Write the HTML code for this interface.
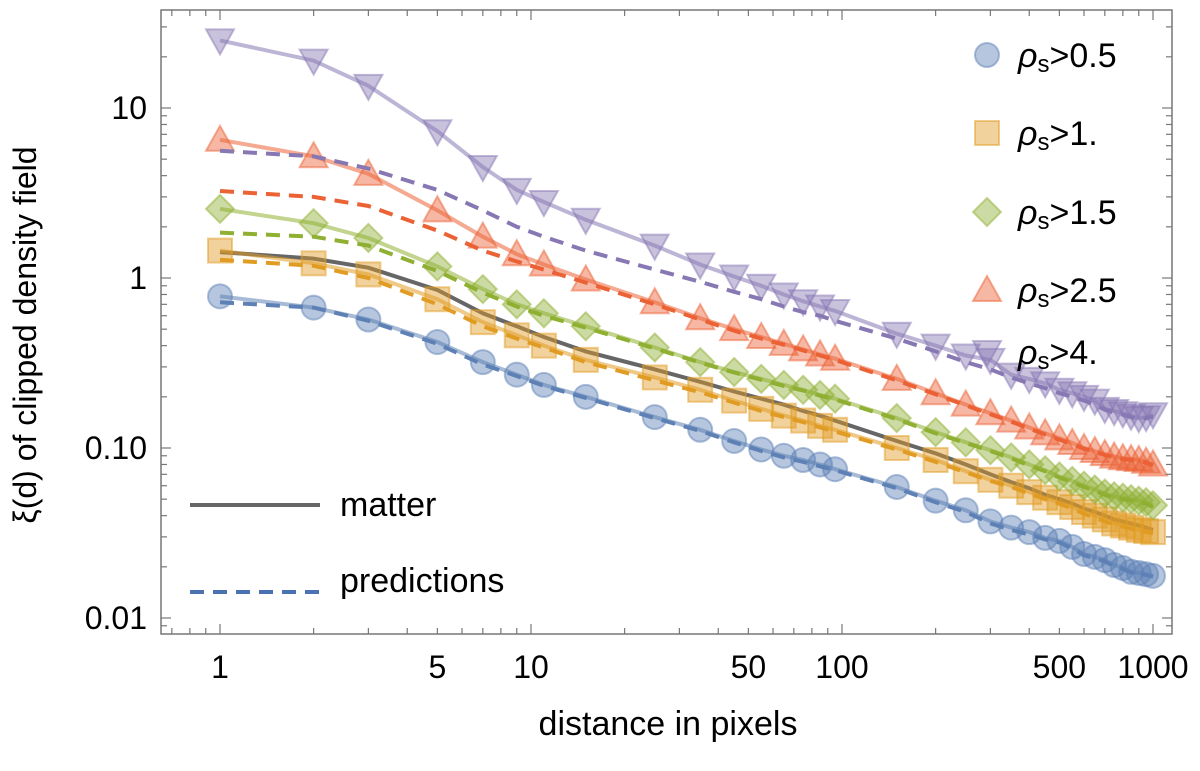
<!DOCTYPE html>
<html><head><meta charset="utf-8"><style>
body{margin:0;background:#fff}
svg text{font-family:"Liberation Sans",sans-serif;fill:#000}
</style></head><body>
<svg id="chart" width="1200" height="766" viewBox="0 0 1200 766" xmlns="http://www.w3.org/2000/svg">
<g id="plot"></g>
<rect x="161" y="10" width="1011" height="624" fill="none" stroke="#777" stroke-width="1.5"/>
<g id="axes"></g>
<text x="668" y="735" font-size="34" text-anchor="middle">distance in pixels</text>
<text transform="translate(36,335) rotate(-90)" font-size="32" text-anchor="middle">ξ(d) of clipped density field</text>
<g id="legend"></g>
</svg>
<script>
const distances=[1,2,3,5,7,9,11,15,25,35,45,55,65,75,85,95,150,200,250,300,350,400,450,500,550,600,650,700,750,800,850,900,950,1000];
const rho05=[0.78,0.67,0.57,0.42,0.32,0.27,0.235,0.2,0.152,0.128,0.11,0.098,0.09,0.085,0.08,0.075,0.059,0.049,0.043,0.037,0.034,0.032,0.0296,0.0284,0.0262,0.0238,0.0229,0.0219,0.0205,0.0197,0.0187,0.0184,0.0181,0.0177];
const rho1=[1.45,1.22,1.05,0.75,0.55,0.46,0.4,0.33,0.26,0.22,0.19,0.17,0.155,0.145,0.135,0.128,0.1,0.085,0.073,0.065,0.06,0.055,0.051,0.048,0.045,0.042,0.04,0.038,0.036,0.035,0.034,0.033,0.0325,0.032];
const rho15=[2.55,2.1,1.72,1.17,0.86,0.7,0.62,0.52,0.39,0.32,0.28,0.255,0.235,0.22,0.205,0.195,0.15,0.124,0.108,0.097,0.088,0.08,0.074,0.068,0.064,0.06,0.057,0.054,0.052,0.051,0.05,0.049,0.048,0.046];
const rho25=[6.5,5.2,4.1,2.5,1.75,1.38,1.2,0.98,0.72,0.58,0.5,0.45,0.41,0.38,0.355,0.335,0.255,0.21,0.18,0.16,0.145,0.132,0.122,0.114,0.107,0.1,0.096,0.092,0.089,0.087,0.086,0.085,0.083,0.08];
const rho4=[25,19,13.5,7.3,4.5,3.3,2.8,2.2,1.55,1.2,1.02,0.9,0.8,0.73,0.68,0.64,0.47,0.4,0.35,0.33,0.27,0.255,0.24,0.22,0.21,0.2,0.19,0.17,0.165,0.16,0.155,0.15,0.152,0.158];
const matter=[1.42,1.3,1.15,0.85,0.62,0.52,0.45,0.37,0.29,0.245,0.215,0.195,0.18,0.165,0.155,0.145,0.11,0.093,0.08,0.07,0.063,0.058,0.053,0.05,0.047,0.044,0.042,0.04,0.038,0.037,0.036,0.035,0.034,0.033];
const pred05=[0.72,0.67,0.56,0.41,0.31,0.265,0.232,0.197,0.15,0.126,0.108,0.096,0.088,0.083,0.078,0.074,0.058,0.048,0.042,0.036,0.033,0.031,0.029,0.0278,0.0256,0.0234,0.0225,0.0215,0.0202,0.0194,0.0185,0.0182,0.0179,0.0175];
const pred1=[1.28,1.18,1.0,0.7,0.52,0.44,0.39,0.32,0.25,0.213,0.185,0.165,0.152,0.142,0.132,0.125,0.098,0.083,0.072,0.064,0.059,0.054,0.05,0.047,0.044,0.041,0.039,0.037,0.0355,0.0345,0.0335,0.0325,0.032,0.0315];
const pred15=[1.85,1.75,1.55,1.1,0.82,0.68,0.6,0.51,0.385,0.318,0.278,0.252,0.232,0.218,0.203,0.193,0.148,0.122,0.107,0.096,0.087,0.079,0.073,0.067,0.063,0.059,0.056,0.053,0.051,0.05,0.049,0.048,0.047,0.045];
const pred25=[3.25,3.0,2.65,1.9,1.45,1.25,1.12,0.94,0.7,0.57,0.49,0.44,0.405,0.375,0.35,0.33,0.25,0.207,0.178,0.158,0.143,0.13,0.12,0.112,0.105,0.099,0.095,0.091,0.088,0.086,0.085,0.084,0.082,0.079];
const pred4=[5.6,5.2,4.4,3.3,2.5,2.0,1.75,1.45,1.12,0.95,0.83,0.75,0.68,0.63,0.6,0.56,0.44,0.37,0.32,0.29,0.26,0.24,0.225,0.21,0.2,0.19,0.18,0.168,0.162,0.157,0.152,0.148,0.15,0.153];
const xTicks=[1,5,10,50,100,500,1000];
const yTicks=[10,1,0.1,0.01];
const yTickLabels=["10","1","0.10","0.01"];
const legendLabels=["0.5","1.","1.5","2.5","4."];

const NS="http://www.w3.org/2000/svg";
const X=d=>220+311*Math.log10(d);
const Y=v=>108+170*(1-Math.log10(v));
function mk(tag,attrs,parent){const e=document.createElementNS(NS,tag);for(const k in attrs)e.setAttribute(k,attrs[k]);parent.appendChild(e);return e;}
const plot=document.getElementById('plot'),axes=document.getElementById('axes'),legend=document.getElementById('legend');
const series=[
 {name:'rho-0.5',v:rho05,p:pred05,c:'#5E81B5',m:'circle'},
 {name:'rho-1',v:rho1,p:pred1,c:'#E19C24',m:'square'},
 {name:'rho-1.5',v:rho15,p:pred15,c:'#8FB032',m:'diamond'},
 {name:'rho-2.5',v:rho25,p:pred25,c:'#EB6235',m:'tri'},
 {name:'rho-4',v:rho4,p:pred4,c:'#8778B3',m:'itri'}];
function marker(m,x,y,c,parent){
 const st={fill:c,'fill-opacity':0.45,stroke:c,'stroke-opacity':0.5,'stroke-width':2};
 let e;
 if(m==='circle')e=mk('circle',Object.assign({cx:x,cy:y,r:12},st),parent);
 else if(m==='square')e=mk('rect',Object.assign({x:x-12,y:y-12,width:24,height:24},st),parent);
 else if(m==='diamond')e=mk('polygon',Object.assign({points:`${x},${y-14} ${x+14},${y} ${x},${y+14} ${x-14},${y}`},st),parent);
 else if(m==='tri')e=mk('polygon',Object.assign({points:`${x},${y-14} ${x+14},${y+11} ${x-14},${y+11}`},st),parent);
 else e=mk('polygon',Object.assign({points:`${x},${y+14} ${x+14},${y-11} ${x-14},${y-11}`},st),parent);
 return e;
}
const path=arr=>arr.map((v,i)=>(i?'L':'M')+X(distances[i]).toFixed(1)+','+Y(v).toFixed(1)).join(' ');
const mpath=mk('path',{d:path(matter),fill:'none',stroke:'#666','stroke-width':4},plot);


series.forEach(s=>{
 const g=mk('g',{},plot);
 
 
 const l=mk('path',{d:path(s.v),fill:'none',stroke:s.c,'stroke-opacity':0.55,'stroke-width':4},g);
 
 
 const p=mk('path',{d:path(s.p),fill:'none',stroke:s.c,'stroke-width':4,'stroke-dasharray':'14 9'},g);
 
 
 s.v.forEach((v,i)=>{const e=marker(s.m,X(distances[i]),Y(v),s.c,g);
  
  });
});
const minor=[];for(let dec=0.1;dec<=1000;dec*=10)for(let k=1;k<10;k++){const v=Math.round(dec*k*1000)/1000;if(v>=0.65&&v<=1500)minor.push(v);}
minor.forEach(v=>{const x=X(v);const major=[1,10,100,1000].includes(v);const len=major?10:6;
 mk('line',{x1:x,x2:x,y1:634,y2:634-len,stroke:'#777','stroke-width':1.2},axes);
 mk('line',{x1:x,x2:x,y1:10,y2:10+len,stroke:'#777','stroke-width':1.2},axes);});
xTicks.forEach(v=>{const t=mk('text',{x:X(v),y:678,'font-size':32,'text-anchor':'middle'},axes);t.textContent=String(v);
 
 });
for(let dec=0.001;dec<=10;dec*=10)for(let k=1;k<10;k++){const v=dec*k;const y=Y(v);if(y<10||y>634)continue;const len=k===1?10:6;
 mk('line',{x1:161,x2:161+len,y1:y,y2:y,stroke:'#777','stroke-width':1.2},axes);
 mk('line',{x1:1172,x2:1172-len,y1:y,y2:y,stroke:'#777','stroke-width':1.2},axes);}
yTicks.forEach((v,i)=>{const t=mk('text',{x:147,y:Y(v)+11,'font-size':32,'text-anchor':'end'},axes);t.textContent=yTickLabels[i];
 
 });
const ly=[55,133,212,290,352];
series.forEach((s,i)=>{const g=mk('g',{},legend);
 
 
 marker(s.m,987,ly[i],s.c,g);
 const t=mk('text',{x:1018,y:ly[i]+12,'font-size':34},g);
 t.innerHTML='<tspan font-style="italic">ρ</tspan><tspan font-size="24" dy="5">s</tspan><tspan dy="-5">&gt;'+legendLabels[i]+'</tspan>';});
const g1=mk('g',{},legend);


mk('line',{x1:190,x2:320,y1:505,y2:505,stroke:'#666','stroke-width':4},g1);
mk('text',{x:340,y:516,'font-size':34},g1).textContent='matter';
const g2=mk('g',{},legend);


mk('line',{x1:190,x2:320,y1:592,y2:592,stroke:'#4A72B0','stroke-width':4,'stroke-dasharray':'14 9'},g2);
mk('text',{x:340,y:592,'font-size':34},g2).textContent='predictions';
</script>
</body></html>
